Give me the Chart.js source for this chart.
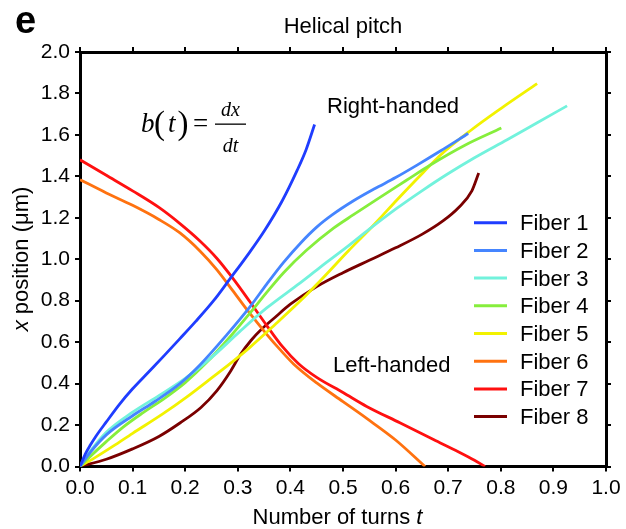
<!DOCTYPE html>
<html><head><meta charset="utf-8">
<script src="https://cdn.jsdelivr.net/npm/chart.js@4/dist/chart.umd.min.js"></script>
<style>html,body{margin:0;padding:0;background:#fff}#wrap{width:626px;height:529px;position:relative}</style>
</head><body><div id="wrap"><canvas id="c"></canvas></div>
<script>
// ---- data (t = number of turns, x = position in µm) ----
const seriesNames = ["Fiber 1","Fiber 2","Fiber 3","Fiber 4","Fiber 5","Fiber 6","Fiber 7","Fiber 8"];
const seriesColors = ["#1f3dff","#4585ff","#72f2dc","#86ee3c","#f2f200","#ff7210","#ff1010","#7a0000"];
const xTicks = [0,0.1,0.2,0.3,0.4,0.5,0.6,0.7,0.8,0.9,1.0];
const yTicks = [0,0.2,0.4,0.6,0.8,1.0,1.2,1.4,1.6,1.8,2.0];
const fiber1 = [[0,0],[0.01,0.06],[0.02,0.105],[0.03,0.145],[0.05,0.215],[0.075,0.30],[0.1,0.375],[0.13,0.455],[0.16,0.535],[0.19,0.617],[0.22,0.70],[0.254,0.80],[0.285,0.905],[0.32,1.025],[0.35,1.135],[0.384,1.28],[0.413,1.43],[0.43,1.53],[0.446,1.65]];
const fiber2 = [[0,0],[0.02,0.07],[0.051,0.155],[0.1,0.245],[0.143,0.315],[0.19,0.40],[0.228,0.49],[0.279,0.635],[0.323,0.77],[0.355,0.88],[0.387,0.985],[0.42,1.08],[0.45,1.155],[0.48,1.215],[0.52,1.282],[0.56,1.34],[0.60,1.394],[0.64,1.453],[0.685,1.522],[0.738,1.607]];
const fiber3 = [[0,0],[0.02,0.075],[0.05,0.165],[0.1,0.262],[0.15,0.342],[0.2,0.425],[0.254,0.535],[0.304,0.652],[0.355,0.765],[0.418,0.885],[0.457,0.962],[0.507,1.058],[0.55,1.145],[0.602,1.245],[0.65,1.33],[0.698,1.41],[0.75,1.49],[0.812,1.577],[0.87,1.66],[0.926,1.74]];
const fiber4 = [[0,0],[0.02,0.05],[0.05,0.12],[0.082,0.19],[0.12,0.26],[0.16,0.328],[0.2,0.405],[0.24,0.50],[0.285,0.625],[0.323,0.74],[0.355,0.84],[0.387,0.935],[0.43,1.042],[0.482,1.15],[0.52,1.215],[0.571,1.30],[0.62,1.38],[0.666,1.455],[0.73,1.548],[0.801,1.633]];
const fiber5 = [[0,0],[0.03,0.045],[0.063,0.098],[0.1,0.16],[0.158,0.255],[0.2,0.33],[0.254,0.435],[0.292,0.51],[0.323,0.575],[0.37,0.683],[0.418,0.797],[0.46,0.905],[0.51,1.04],[0.545,1.13],[0.57,1.197],[0.602,1.285],[0.653,1.42],[0.685,1.502],[0.742,1.62],[0.80,1.727],[0.869,1.847]];
const fiber6 = [[0,1.384],[0.05,1.32],[0.1,1.26],[0.15,1.192],[0.19,1.127],[0.228,1.04],[0.26,0.95],[0.29,0.85],[0.32,0.748],[0.355,0.638],[0.38,0.565],[0.406,0.495],[0.45,0.403],[0.5,0.313],[0.545,0.232],[0.6,0.128],[0.656,0]];
const fiber7 = [[0,1.48],[0.05,1.405],[0.1,1.33],[0.15,1.25],[0.19,1.172],[0.228,1.088],[0.26,1.005],[0.29,0.91],[0.323,0.795],[0.355,0.68],[0.385,0.578],[0.415,0.497],[0.45,0.43],[0.5,0.357],[0.545,0.29],[0.609,0.21],[0.672,0.13],[0.72,0.07],[0.75,0.03],[0.77,0]];
const fiber8 = [[0,0],[0.05,0.035],[0.1,0.085],[0.15,0.145],[0.19,0.21],[0.23,0.285],[0.26,0.365],[0.285,0.455],[0.305,0.54],[0.325,0.608],[0.345,0.662],[0.37,0.718],[0.4,0.783],[0.45,0.868],[0.5,0.935],[0.55,0.995],[0.6,1.055],[0.65,1.12],[0.69,1.185],[0.72,1.25],[0.745,1.33],[0.758,1.416]];
const allSeries = [fiber1,fiber2,fiber3,fiber4,fiber5,fiber6,fiber7,fiber8];

const SANS = '"Liberation Sans", Arial, sans-serif';
const SERIF = '"Liberation Serif", "Times New Roman", serif';

const datasets = allSeries.map((s,i)=>({
  label: seriesNames[i],
  data: s.map(p=>({x:p[0], y:p[1]})),
  borderColor: seriesColors[i],
  backgroundColor: seriesColors[i],
  borderWidth: 2.8,
  pointRadius: 0,
  showLine: true,
  cubicInterpolationMode: 'monotone',
  xAxisID: 'x', yAxisID: 'y'
}));

const fmt = v => Number(v).toFixed(1);
function axisBase(pos, ticksArr, min, max, showLabels, size, pad){
  return {
    type:'linear', position:pos, min:min, max:max,
    afterBuildTicks: s => { s.ticks = ticksArr.map(v=>({value:v})); },
    afterFit: s => { if (pos==='top'||pos==='bottom') s.height = size; else s.width = size; },
    ticks:{display:showLabels, callback:fmt, color:'#000', padding:pad, font:{family:SANS, size:21}, maxRotation:0, autoSkip:false},
    grid:{drawOnChartArea:false, color:'#000', lineWidth:2, tickLength:5},
    border:{display:true, color:'#000', width:3}
  };
}

const annot = {
  id:'annot',
  afterDraw(chart){
    const ctx = chart.ctx, a = chart.chartArea;
    ctx.save();
    ctx.fillStyle = '#000';
    ctx.textBaseline = 'alphabetic';
    // panel letter
    ctx.font = 'bold 38px ' + SANS; ctx.textAlign='left';
    ctx.fillText('e', 15, 33);
    // title
    ctx.font = '22px ' + SANS; ctx.textAlign='center';
    ctx.fillText('Helical pitch', (a.left+a.right)/2, 33);
    // annotations
    ctx.textAlign='left';
    ctx.fillText('Right-handed', 327, 113);
    ctx.fillText('Left-handed', 333, 372);
    // x axis title with italic t
    const p1 = 'Number of turns ', p2 = 't';
    ctx.font = '22px ' + SANS; const w1 = ctx.measureText(p1).width;
    ctx.font = 'italic 22px ' + SANS; const w2 = ctx.measureText(p2).width;
    let sx = 337.5 - (w1+w2)/2;
    ctx.font = '22px ' + SANS; ctx.fillText(p1, sx, 524);
    ctx.font = 'italic 22px ' + SANS; ctx.fillText(p2, sx+w1, 524);
    // y axis title rotated
    ctx.save();
    ctx.translate(28, 259); ctx.rotate(-Math.PI/2);
    const q1='x', q2=' position (\u03bcm)';
    ctx.font = 'italic 22px ' + SANS; const v1 = ctx.measureText(q1).width;
    ctx.font = '22px ' + SANS; const v2 = ctx.measureText(q2).width;
    let sy = -(v1+v2)/2;
    ctx.font = 'italic 22px ' + SANS; ctx.fillText(q1, sy, 0);
    ctx.font = '22px ' + SANS; ctx.fillText(q2, sy+v1, 0);
    ctx.restore();
    // formula b(t) = dx/dt
    ctx.textAlign='left';
    ctx.font = 'italic 27px ' + SERIF; ctx.fillText('b', 141, 132);
    ctx.font = '33px ' + SERIF; ctx.fillText('(', 154, 134);
    ctx.font = 'italic 27px ' + SERIF; ctx.fillText('t', 168, 132);
    ctx.font = '33px ' + SERIF; ctx.fillText(')', 177.5, 134);
    ctx.font = '27px ' + SERIF; ctx.fillText('=', 193, 132);
    ctx.fillRect(215, 123.5, 31, 1.3);
    ctx.textAlign='center';
    ctx.font = 'italic 20px ' + SERIF; ctx.fillText('dx', 230.5, 115.5);
    ctx.fillText('dt', 230.5, 151.5);
    // legend
    ctx.textAlign='left';
    ctx.font = '22px ' + SANS;
    chart.data.datasets.forEach((d,i)=>{
      const yy = 222.7 + i*27.7;
      ctx.strokeStyle = d.borderColor; ctx.lineWidth = 3;
      ctx.beginPath(); ctx.moveTo(474, yy); ctx.lineTo(507, yy); ctx.stroke();
      ctx.fillStyle = '#000';
      ctx.fillText(d.label, 520, yy+7.5);
    });
    ctx.restore();
  }
};

new Chart(document.getElementById('c'), {
  type:'scatter',
  data:{datasets},
  options:{
    responsive:true, maintainAspectRatio:false, animation:false, devicePixelRatio:1,
    layout:{padding:0},
    plugins:{legend:{display:false}, title:{display:false}, tooltip:{enabled:false}},
    scales:{
      x: axisBase('bottom', xTicks, 0, 1, true, 62.5, 4),
      y: axisBase('left', yTicks, 0, 2, true, 80, 5),
      x2: axisBase('top', xTicks, 0, 1, false, 52, 0),
      y2: axisBase('right', yTicks, 0, 2, false, 20, 0)
    }
  },
  plugins:[annot]
});
</script></body></html>
